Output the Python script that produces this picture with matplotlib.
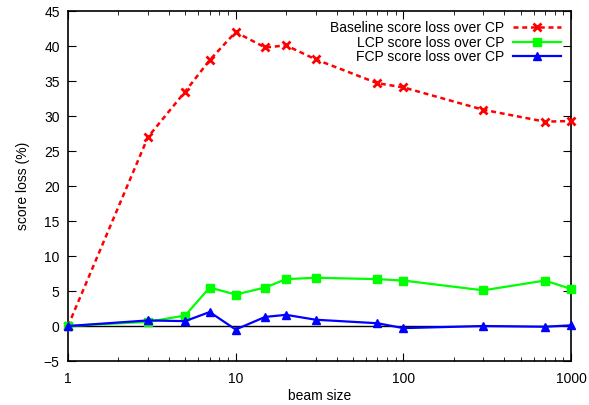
import matplotlib
matplotlib.use("Agg")
import matplotlib.pyplot as plt
from matplotlib.ticker import FixedLocator, LogLocator, NullFormatter

plt.rcParams['font.family'] = ['Liberation Sans', 'DejaVu Sans']

beam = [1, 3, 5, 7, 10, 15, 20, 30, 70, 100, 300, 700, 1000]
baseline = [0, 27.0, 33.5, 38.0, 42.0, 39.8, 40.1, 38.1, 34.7, 34.1, 30.9, 29.2, 29.3]
lcp = [0, 0.6, 1.5, 5.5, 4.5, 5.5, 6.7, 6.9, 6.7, 6.5, 5.1, 6.5, 5.3]
fcp = [0, 0.8, 0.7, 2.0, -0.5, 1.3, 1.6, 0.9, 0.4, -0.3, 0.0, -0.1, 0.1]

fig = plt.figure(figsize=(5.89, 4.05), dpi=100)
ax = fig.add_axes([0.1154, 0.1086, 0.854, 0.864])

ax.axhline(0, color='black', lw=1, zorder=1)
ax.plot(beam, baseline, color='#ff0000', ls=(0, (2, 1.5)), lw=1.8, marker='x',
        ms=6, mew=2, label='Baseline score loss over CP', zorder=3, clip_on=False)
ax.plot(beam, lcp, color='#00ff00', lw=1.6, marker='s', ms=6,
        label='LCP score loss over CP', zorder=3, clip_on=False)
ax.plot(beam, fcp, color='#0000ff', lw=1.6, marker='^', ms=6,
        label='FCP score loss over CP', zorder=4, clip_on=False)

ax.set_xscale('log')
ax.set_xlim(1, 1000)
ax.set_ylim(-5, 45)
ax.set_xticks([1, 10, 100, 1000])
ax.set_xticklabels(['1', '10', '100', '1000'])
ax.xaxis.set_minor_locator(LogLocator(base=10, subs=range(2, 10)))
ax.xaxis.set_minor_formatter(NullFormatter())
ax.yaxis.set_major_locator(FixedLocator(range(-5, 46, 5)))
ax.tick_params(which='both', direction='in', top=True, right=True, labelsize=10)
ax.tick_params(which='major', length=6)
ax.tick_params(which='minor', length=3)
ax.tick_params(axis='x', pad=8)
ax.tick_params(axis='y', pad=6)
for s in ax.spines.values():
    s.set_linewidth(1.2)

ax.set_xlabel('beam size', fontsize=10, labelpad=2)
ax.set_ylabel('score loss (%)', fontsize=10, labelpad=10)

ax.legend(loc='upper right', frameon=False, markerfirst=False, fontsize=10,
          handlelength=3.5, labelspacing=0.05, borderaxespad=0.3,
          handletextpad=0.6)

fig.savefig('out.png', dpi=100)
